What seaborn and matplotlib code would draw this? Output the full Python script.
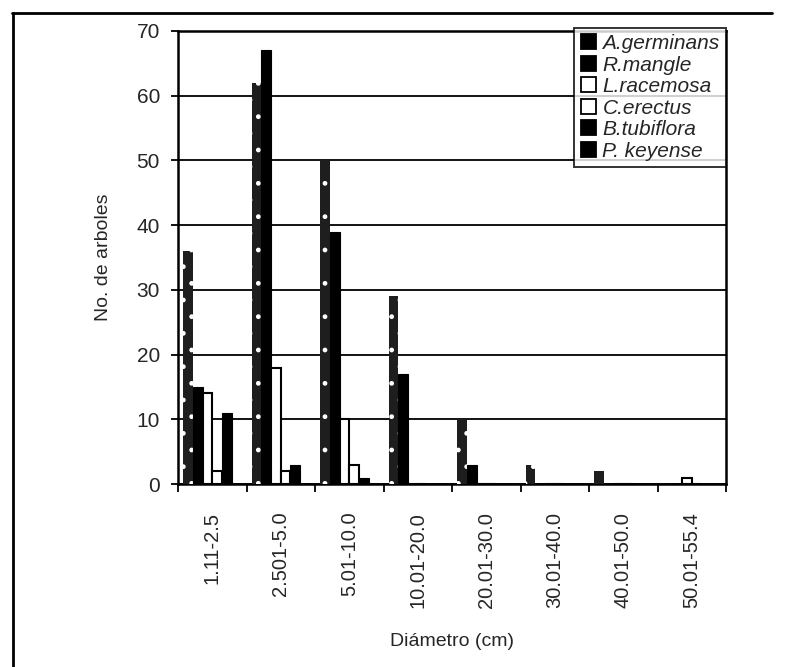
import matplotlib
matplotlib.use("Agg")
import matplotlib.pyplot as plt
import seaborn as sns
import pandas as pd
from matplotlib.patches import Patch
from matplotlib.lines import Line2D

categories = ["1.11-2.5", "2.501-5.0", "5.01-10.0", "10.01-20.0",
              "20.01-30.0", "30.01-40.0", "40.01-50.0", "50.01-55.4"]
species = ["A.germinans", "R.mangle", "L.racemosa", "C.erectus",
           "B.tubiflora", "P. keyense"]
a_germinans = [36, 62, 50, 29, 10, 3, 2, 0]
r_mangle = [15, 67, 39, 17, 3, 0, 0, 0]
l_racemosa = [14, 18, 10, 0, 0, 0, 0, 1]
c_erectus = [2, 2, 3, 0, 0, 0, 0, 0]
b_tubiflora = [11, 3, 1, 0, 0, 0, 0, 0]
p_keyense = [0, 0, 0, 0, 0, 0, 0, 0]
y_ticks = [0, 10, 20, 30, 40, 50, 60, 70]

series = [a_germinans, r_mangle, l_racemosa, c_erectus, b_tubiflora, p_keyense]
rows = []
for sp, vals in zip(species, series):
    for cat, v in zip(categories, vals):
        rows.append({"Diámetro": cat, "Especie": sp, "n": v})
df = pd.DataFrame(rows)

sns.set_theme(style="white")
plt.rcParams["font.family"] = ["Liberation Sans", "DejaVu Sans"]

face = {"A.germinans": "#1e1e1e", "R.mangle": "black", "L.racemosa": "white",
        "C.erectus": "white", "B.tubiflora": "black", "P. keyense": "black"}

W, H = 790, 667
fig = plt.figure(figsize=(W / 100, H / 100), dpi=100)
ax = fig.add_axes([178 / W, 1 - 484 / H, (726 - 178) / W, (484 - 31) / H])

sns.barplot(data=df, x="Diámetro", y="n", hue="Especie", order=categories,
            hue_order=species, palette=face, ax=ax, legend=False,
            width=0.85, saturation=1)

for sp, cont in zip(species, ax.containers):
    for bar in cont:
        bar.set_zorder(3)
        if face[sp] == "white":
            bar.set_edgecolor("black")
            bar.set_linewidth(1.5)
        elif sp == "A.germinans":
            bar.set_edgecolor("white")
            bar.set_hatch(".")
            bar.set_linewidth(0)
        else:
            bar.set_edgecolor("black")
            bar.set_linewidth(0.8)

ax.set_ylim(0, 70)
ax.set_xlim(-0.5, len(categories) - 0.5)
ax.set_yticks(y_ticks)
ax.set_yticklabels([str(t) for t in y_ticks], fontsize=15)
ax.grid(axis="y", color="black", linewidth=1.3, zorder=0)
ax.set_axisbelow(True)

ax.set_xticks(range(len(categories)))
ax.set_xticklabels(categories, rotation=90, fontsize=14.5)
ax.tick_params(axis="x", which="major", length=0, pad=20)
ax.set_xticks([i - 0.5 for i in range(len(categories) + 1)], minor=True)
ax.tick_params(axis="x", which="minor", length=6, width=1.3, color="black",
               direction="out", bottom=True)
ax.tick_params(axis="y", length=5, width=1.3, color="black", direction="out",
               left=True, pad=8)

for s in ax.spines.values():
    s.set_visible(True)
    s.set_color("black")
    s.set_linewidth(1.8)

ax.set_xlabel("Diámetro (cm)", fontsize=14, labelpad=18)
ax.set_ylabel("No. de arboles", fontsize=14, labelpad=18)

handles = [Patch(facecolor=("black" if face[sp] != "white" else "white"),
                 edgecolor="black", linewidth=1.3) for sp in species]
leg = ax.legend(handles, species, loc="upper right", bbox_to_anchor=(1.0, 1.007),
                frameon=True, fancybox=False, edgecolor="black",
                prop={"style": "italic", "size": 15}, handlelength=0.75,
                handleheight=0.75, handletextpad=0.3, labelspacing=0.12,
                borderpad=0.3, borderaxespad=0.0)
leg.get_frame().set_linewidth(1.4)
leg.set_zorder(5)

fig.add_artist(Line2D([12 / W, 772 / W], [1 - 13 / H, 1 - 13 / H],
                      transform=fig.transFigure, color="black", linewidth=2))
fig.add_artist(Line2D([13 / W, 13 / W], [1 - 13 / H, 0],
                      transform=fig.transFigure, color="black", linewidth=2))

fig.savefig("out.png", dpi=100, facecolor="white")
